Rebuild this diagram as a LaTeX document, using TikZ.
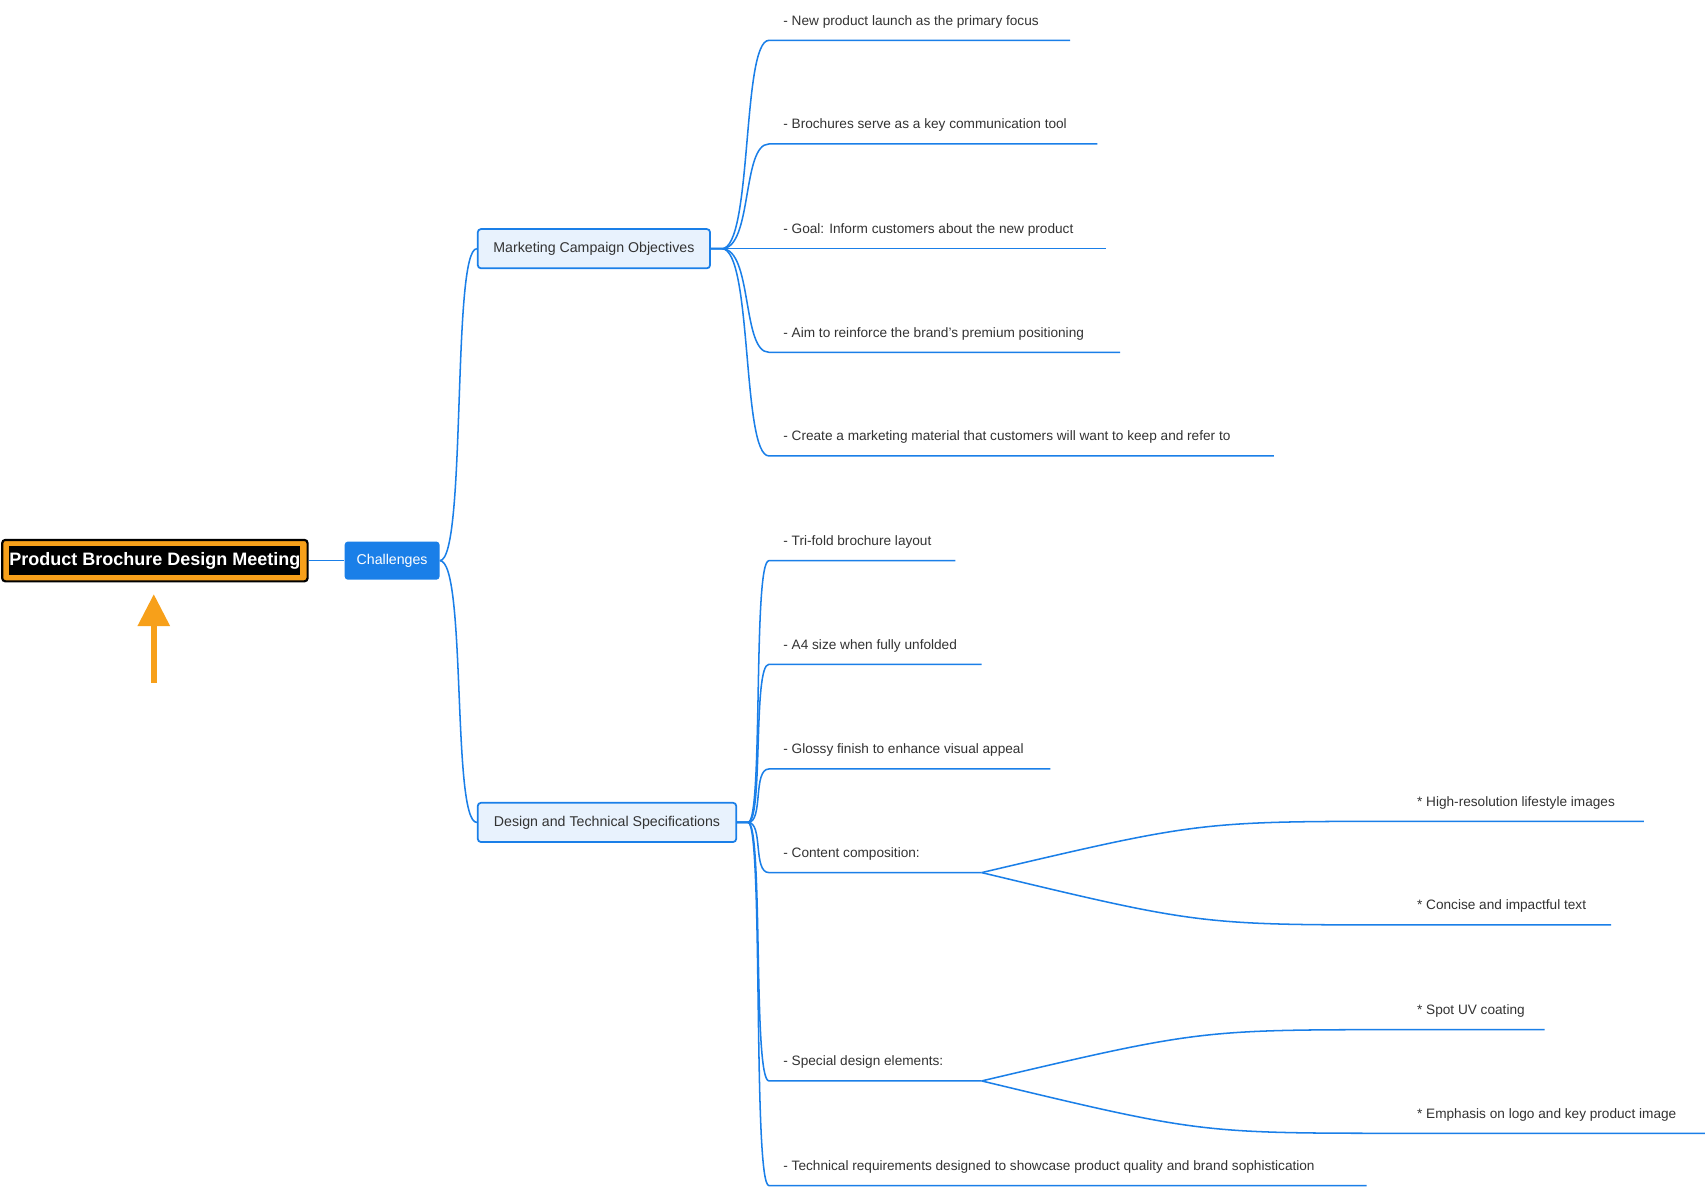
\documentclass[tikz,border=0pt]{standalone}
\usepackage{fontspec}
\setmainfont{Liberation Sans}
\definecolor{lb}{HTML}{1A7FE8}
\definecolor{lfill}{HTML}{E8F2FD}
\definecolor{tx}{HTML}{333333}
\definecolor{org}{HTML}{F7A01A}
\begin{document}
\begin{tikzpicture}[x=1pt,y=-1pt,
  conn/.style={draw=lb,line width=1.4pt},
  leaf/.style={anchor=south west,inner sep=0pt,text=tx,font=\fontsize{12.5}{14}\selectfont},
  sub/.style={draw=lb,line width=1.6pt,fill=lfill,rounded corners=3pt,text=tx,font=\fontsize{13}{15}\selectfont,inner xsep=11pt,minimum height=36pt}]
\useasboundingbox[fill=white] (0,0) rectangle (1565,1089);
% root
\node[draw=black,line width=2pt,fill=org,rounded corners=3pt,minimum width=280pt,minimum height=38pt] (root) at (142,514) {};
\node[fill=black,text=white,font=\bfseries\fontsize{16.5}{18}\selectfont,minimum width=266pt,minimum height=26pt,inner sep=0pt] (roottxt) at (142,514) {Product Brochure Design Meeting};
\coordinate (a1) at (141,626);
\coordinate (a2) at (141,545);
\draw[org,line width=5pt] (a1) -- (141,570);
\fill[org] (a2) -- (156,574) -- (126,574) -- cycle;
% challenges
\node[fill=lb,rounded corners=3pt,text=white,font=\fontsize{13}{15}\selectfont,minimum width=87pt,minimum height=35pt] (ch) at (359.5,514) {Challenges};
\draw[conn] (root.east) -- (ch.west);
\node[sub,minimum width=213pt] (mk) at (544.5,228) {Marketing Campaign Objectives};
\node[sub,minimum width=237pt] (ds) at (556.5,754) {Design and Technical Specifications};
\draw[conn] (ch.east) .. controls (428,514) and (414,228) .. (mk.west);
\draw[conn] (ch.east) .. controls (428,514) and (414,754) .. (ds.west);
% marketing leaves
\foreach \y/\e/\t [count=\i] in {37/981/{- New product launch as the primary focus},
  132/1006/{- Brochures serve as a key communication tool},
  228/1014/{- Goal: Inform customers about the new product},
  323/1027/{- Aim to reinforce the brand's premium positioning},
  418/1168/{- Create a marketing material that customers will want to keep and refer to}}{
  \coordinate (m\i) at (705,\y);
  \coordinate (me\i) at (\e,\y);
  \node[leaf] (mt\i) at (718,\y-11) {\t};
  \draw[conn] (mk.east) -- ++(10,0) .. controls (690,228) and (680,\y) .. (m\i) -- (me\i);
}
% design leaves
\foreach \y/\e/\t [count=\i] in {514/876/{- Tri-fold brochure layout},
  609/900/{- A4 size when fully unfolded},
  705/963/{- Glossy finish to enhance visual appeal},
  800/900/{- Content composition:},
  991/900/{- Special design elements:},
  1087/1253/{- Technical requirements designed to showcase product quality and brand sophistication}}{
  \coordinate (d\i) at (705,\y);
  \coordinate (de\i) at (\e,\y);
  \node[leaf] (dt\i) at (718,\y-11) {\t};
  \draw[conn] (ds.east) -- ++(10,0) .. controls (700,754) and (690,\y) .. (d\i) -- (de\i);
}
% sub-sub leaves
\foreach \p/\y/\e/\t [count=\i] in {4/753/1507/{* High-resolution lifestyle images},
  4/848/1477/{* Concise and impactful text},
  5/944/1416/{* Spot UV coating},
  5/1039/1563/{* Emphasis on logo and key product image}}{
  \coordinate (s\i) at (1290,\y);
  \coordinate (se\i) at (\e,\y);
  \node[leaf] (st\i) at (1299,\y-11) {\t};
  \draw[conn] (de\p) .. controls (1100,\y+\y-\y+0) and (1100,\y) .. (s\i) -- (se\i);
}
\end{tikzpicture}
\end{document}
